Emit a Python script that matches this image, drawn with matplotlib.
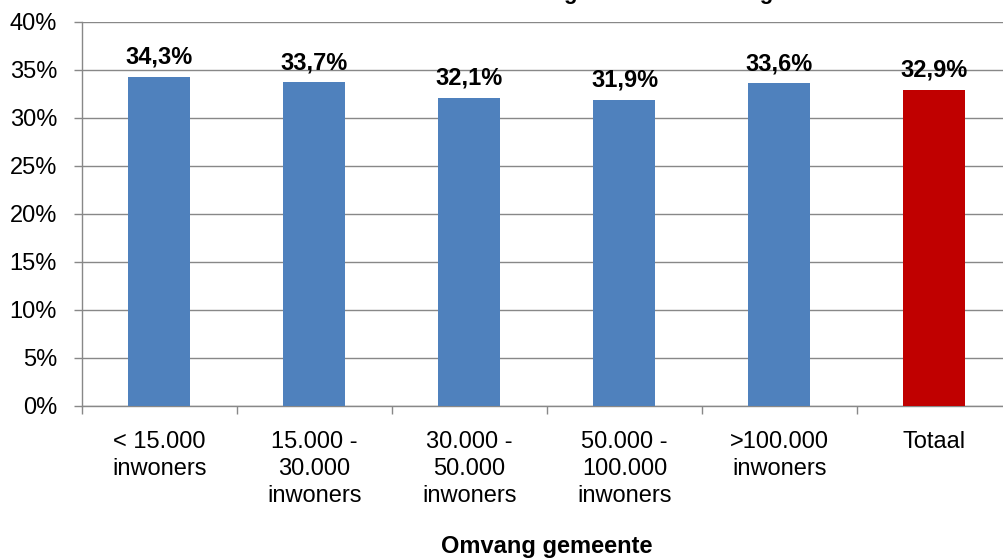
import matplotlib.pyplot as plt
from matplotlib.ticker import FixedLocator

# share per municipality size class
categories = ["< 15.000\ninwoners", "15.000 -\n30.000\ninwoners", "30.000 -\n50.000\ninwoners",
              "50.000 -\n100.000\ninwoners", ">100.000\ninwoners", "Totaal"]
values = [34.3, 33.7, 32.1, 31.9, 33.6, 32.9]
labels = ["34,3%", "33,7%", "32,1%", "31,9%", "33,6%", "32,9%"]
colors = ["#4F81BD"] * 5 + ["#C00000"]
yticks = [0, 5, 10, 15, 20, 25, 30, 35, 40]

plt.rcParams['font.family'] = ['Liberation Sans', 'DejaVu Sans']

fig = plt.figure(figsize=(10.04, 5.6), dpi=100)
ax = fig.add_axes([82 / 1004, 154 / 560, 930 / 1004, 384 / 560])

x = range(len(values))
bars = ax.bar(x, values, width=0.4, color=colors, zorder=3)

# value labels above the bars
for xi, v, lab in zip(x, values, labels):
    ax.annotate(lab, (xi, v), xytext=(0, 6), textcoords="offset points",
                ha="center", va="bottom", fontsize=17, fontweight="bold")

ax.set_xlim(-0.5, 5.5)
ax.set_ylim(0, 40)
ax.set_yticks(yticks)
ax.set_yticklabels([f"{t}%" for t in yticks], fontsize=17)
ax.set_xticks(list(x))
ax.set_xticklabels(categories, fontsize=17, linespacing=1.3)
ax.xaxis.set_minor_locator(FixedLocator([i - 0.5 for i in range(len(values) + 1)]))

ax.tick_params(axis="x", which="major", length=0, pad=18)
ax.tick_params(axis="x", which="minor", length=6, color="#888888", width=1)
ax.tick_params(axis="y", length=6, color="#888888", width=1, pad=12)

ax.grid(axis="y", color="#888888", linewidth=1, zorder=0)
for side in ["top", "right"]:
    ax.spines[side].set_visible(False)
for side in ["left", "bottom"]:
    ax.spines[side].set_color("#888888")
    ax.spines[side].set_linewidth(1)

ax.set_xlabel("Omvang gemeente", fontsize=17, fontweight="bold", labelpad=20)

# chart title, sitting at the top edge of the canvas
fig.text(0.52, 1.0 + 1 / 560, "Aandeel huishoudens met laag inkomen in de regio",
         ha="center", va="baseline", fontsize=16, fontweight="bold")

fig.savefig("out.png", dpi=100)
